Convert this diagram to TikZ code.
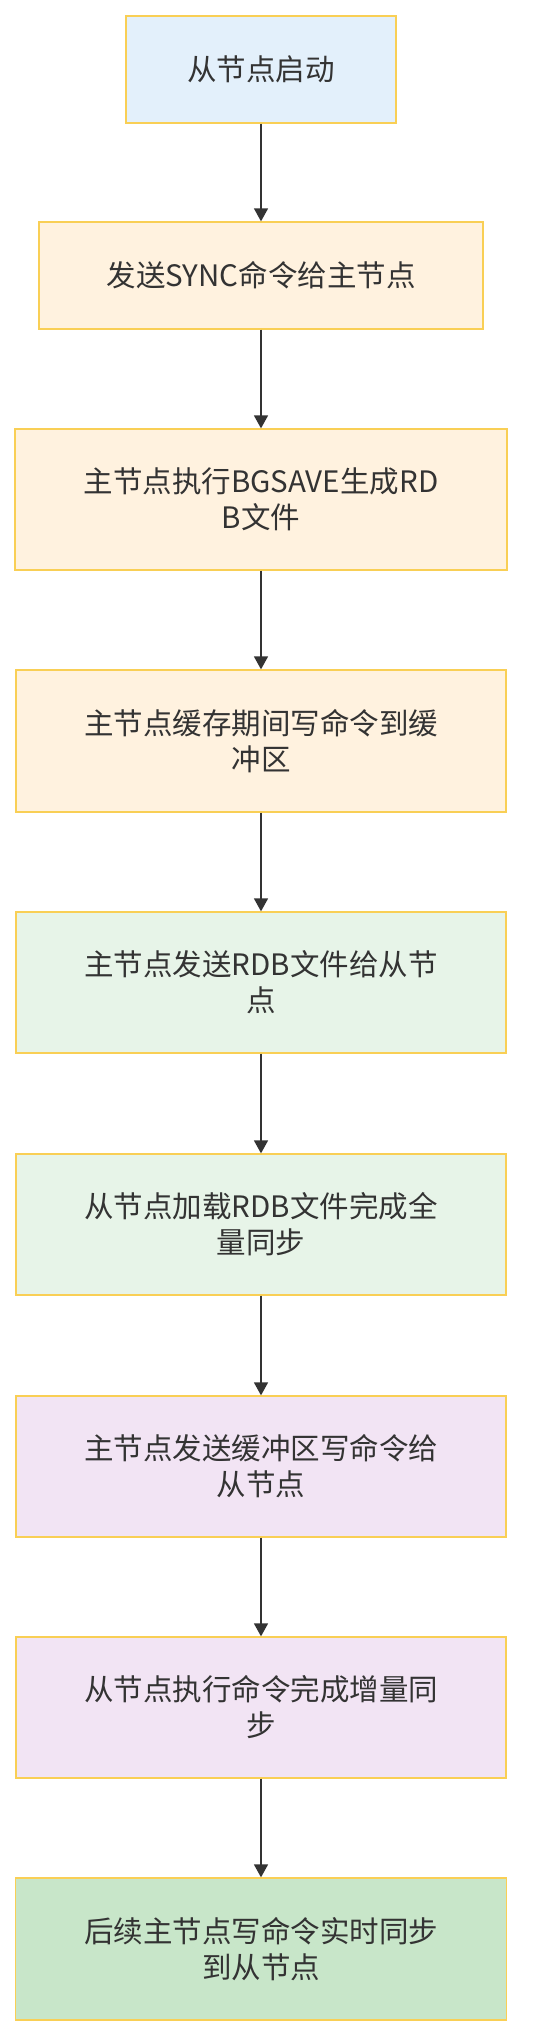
\documentclass[tikz,border=0pt]{standalone}
\usepackage{fontspec}
\setmainfont{Noto Sans CJK SC}
\usetikzlibrary{arrows.meta}
\definecolor{bordc}{HTML}{F9CF55}
\definecolor{txtc}{HTML}{333333}
\definecolor{lineclr}{HTML}{333333}
\definecolor{fblue}{HTML}{E3F0FB}
\definecolor{forange}{HTML}{FFF2DF}
\definecolor{fgreen}{HTML}{E7F4E8}
\definecolor{fpurple}{HTML}{F2E4F4}
\definecolor{fdgreen}{HTML}{C8E6C9}
\tikzset{
  box/.style={draw=bordc, line width=1.3pt, text=txtc, align=center,
    font=\fontsize{29.5}{36}\selectfont, inner sep=0pt},
  link/.style={draw=lineclr, line width=1.5pt, -{Triangle[length=13pt,width=14pt]}},
}
\begin{document}
\begin{tikzpicture}[x=1pt,y=-1pt]
\useasboundingbox (0,0) rectangle (552,2036);
\node[box, fill=fblue, minimum width=270pt, minimum height=107pt] (n1) at (261,69.5) {从节点启动};
\node[box, fill=forange, minimum width=444pt, minimum height=107pt] (n2) at (261,275.5) {发送SYNC命令给主节点};
\node[box, fill=forange, minimum width=492pt, minimum height=141pt] (n3) at (261,499.5) {主节点执行BGSAVE生成RD\\B文件};
\node[box, fill=forange, minimum width=490pt, minimum height=142pt] (n4) at (261,741) {主节点缓存期间写命令到缓\\冲区};
\node[box, fill=fgreen, minimum width=490pt, minimum height=141pt] (n5) at (261,982.5) {主节点发送RDB文件给从节\\点};
\node[box, fill=fgreen, minimum width=490pt, minimum height=141pt] (n6) at (261,1224.5) {从节点加载RDB文件完成全\\量同步};
\node[box, fill=fpurple, minimum width=490pt, minimum height=141pt] (n7) at (261,1466.5) {主节点发送缓冲区写命令给\\从节点};
\node[box, fill=fpurple, minimum width=490pt, minimum height=141pt] (n8) at (261,1707.5) {从节点执行命令完成增量同\\步};
\node[box, fill=fdgreen, minimum width=491pt, minimum height=142pt] (n9) at (261,1949) {后续主节点写命令实时同步\\到从节点};
\foreach \a/\b in {n1/n2,n2/n3,n3/n4,n4/n5,n5/n6,n6/n7,n7/n8,n8/n9}
  \draw[link] (\a.south) -- (\b.north);
\end{tikzpicture}
\end{document}
